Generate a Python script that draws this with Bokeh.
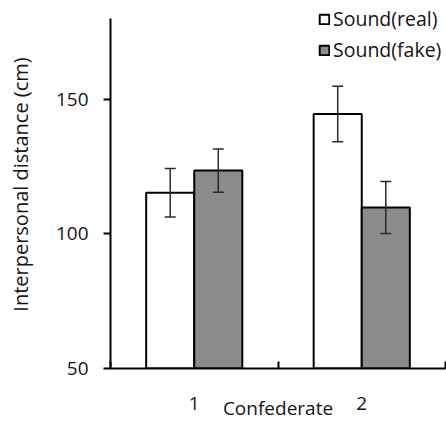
from bokeh.plotting import figure
from bokeh.models import (ColumnDataSource, Range1d, FixedTicker, Whisker,
                          Legend, LegendItem)
from bokeh.embed import file_html
from bokeh.resources import INLINE

# ---- data ----
categories = ["1", "2"]
series_names = ["Sound(real)", "Sound(fake)"]
real_means = [115.3, 144.5]
real_errors = [9.0, 10.3]
fake_means = [123.5, 109.8]
fake_errors = [8.0, 9.7]
y_ticks = [50, 100, 150]
y_min, y_max = 50, 180
x_title = "Confederate"
y_title = "Interpersonal distance (cm)"

FONT = "Open Sans"
FS = "19px"
TEXT_COLOR = "#141414"
GRAY = "#8b8b8b"

# layout: the axis line spans y_min..y_max over 350 px; the frame runs 18 px
# higher so the legend (drawn inside the frame) is not clipped
AXIS_PX = 350
TOP_PAD_PX = 18
y_view_max = y_max + TOP_PAD_PX * (y_max - y_min) / AXIS_PX

pos = [i + 1 for i in range(len(categories))]
bw = 0.287
x_lo, x_hi = 0.5, len(categories) + 0.5

p = figure(width=446, height=430, output_backend="svg", toolbar_location=None,
           x_range=Range1d(x_lo, x_hi),
           y_range=Range1d(y_min, y_view_max),
           min_border_left=110, min_border_right=1,
           min_border_top=0, min_border_bottom=62)
p.outline_line_color = None
p.grid.visible = False
p.background_fill_color = "white"
p.border_fill_color = "white"

src_real = ColumnDataSource(dict(
    x=[c - bw / 2 for c in pos], top=real_means,
    upper=[m + e for m, e in zip(real_means, real_errors)],
    lower=[m - e for m, e in zip(real_means, real_errors)]))
src_fake = ColumnDataSource(dict(
    x=[c + bw / 2 for c in pos], top=fake_means,
    upper=[m + e for m, e in zip(fake_means, fake_errors)],
    lower=[m - e for m, e in zip(fake_means, fake_errors)]))

r1 = p.vbar(x="x", top="top", bottom=y_min, width=bw, source=src_real,
            fill_color="white", line_color="black", line_width=2)
r2 = p.vbar(x="x", top="top", bottom=y_min, width=bw, source=src_fake,
            fill_color=GRAY, line_color="black", line_width=2)

for src in (src_real, src_fake):
    w = Whisker(base="x", upper="upper", lower="lower", source=src,
                line_color="#2a2a2a", line_width=1.5, level="overlay")
    for head in (w.upper_head, w.lower_head):
        head.size = 11
        head.line_color = "#2a2a2a"
        head.line_width = 1.5
    p.add_layout(w)

legend = Legend(items=[LegendItem(label=series_names[0], renderers=[r1]),
                       LegendItem(label=series_names[1], renderers=[r2])],
                location=(208, 305), glyph_width=12, glyph_height=12,
                label_standoff=3, spacing=4, padding=0, margin=0,
                label_height=20, border_line_color=None,
                background_fill_alpha=0, label_text_font=FONT,
                label_text_font_size="19.5px", label_text_color=TEXT_COLOR)
p.add_layout(legend)

# y axis
ya = p.yaxis[0]
ya.bounds = (y_min, y_max)
ya.ticker = FixedTicker(ticks=y_ticks, minor_ticks=[])
ya.major_tick_out = 7
ya.major_tick_in = 0
ya.minor_tick_out = 0
ya.minor_tick_in = 0
ya.axis_line_width = 2
ya.axis_line_color = "black"
ya.major_tick_line_width = 2
ya.major_tick_line_color = "black"
ya.major_label_text_font = FONT
ya.major_label_text_font_size = FS
ya.major_label_text_color = TEXT_COLOR
ya.major_label_standoff = 15
ya.axis_label = y_title
ya.axis_label_text_font = FONT
ya.axis_label_text_font_size = "20px"
ya.axis_label_text_font_style = "normal"
ya.axis_label_text_color = TEXT_COLOR
ya.axis_label_standoff = 19

# x axis
xa = p.xaxis[0]
bounds = [c - 0.5 for c in pos] + [pos[-1] + 0.5]
xa.ticker = FixedTicker(ticks=pos, minor_ticks=bounds)
xa.major_label_overrides = {c: lab for c, lab in zip(pos, categories)}
xa.major_tick_in = 0
xa.major_tick_out = 0
xa.minor_tick_in = 7
xa.minor_tick_out = 0
xa.minor_tick_line_width = 2
xa.minor_tick_line_color = "black"
xa.axis_line_width = 2
xa.axis_line_color = "black"
xa.major_label_text_font = FONT
xa.major_label_text_font_size = FS
xa.major_label_text_color = TEXT_COLOR
xa.major_label_standoff = 28
xa.axis_label = x_title
xa.axis_label_text_font = FONT
xa.axis_label_text_font_size = FS
xa.axis_label_text_font_style = "normal"
xa.axis_label_text_color = TEXT_COLOR
xa.axis_label_standoff = -18

open("out.html", "w").write(file_html(p, INLINE))
